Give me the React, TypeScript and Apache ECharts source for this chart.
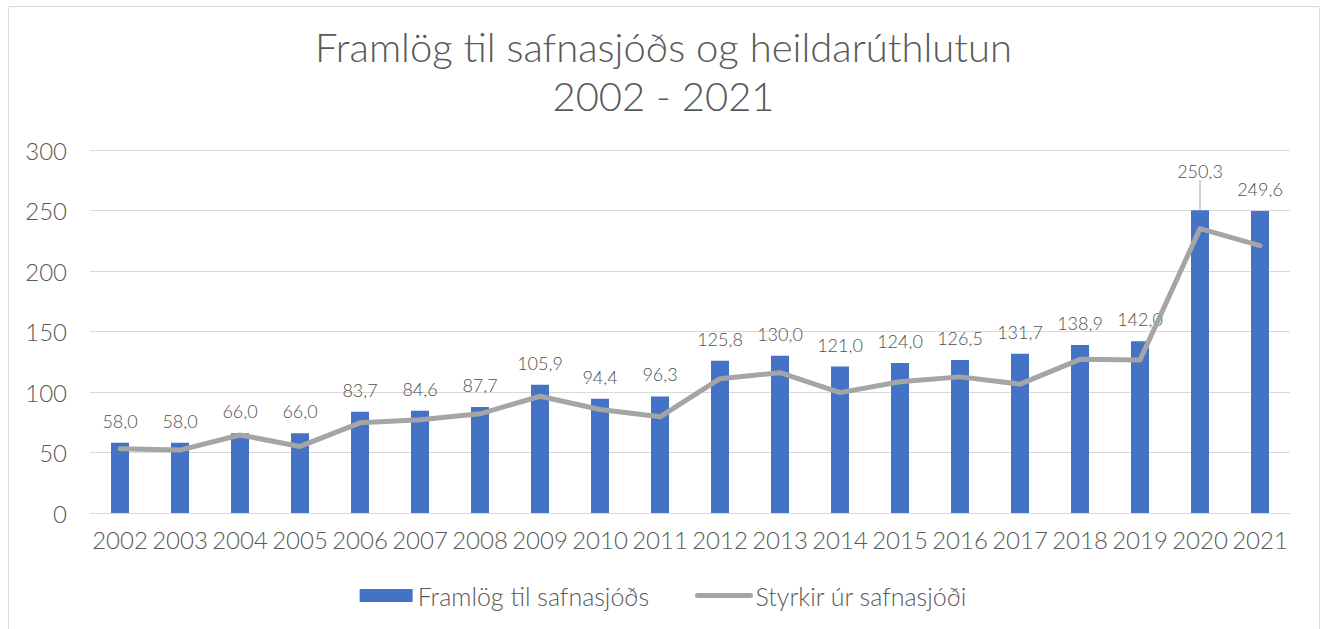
import React, { useEffect, useRef } from "react";
import * as echarts from "echarts";

const years = ["2002","2003","2004","2005","2006","2007","2008","2009","2010","2011","2012","2013","2014","2015","2016","2017","2018","2019","2020","2021"];
const framlog = [58.0,58.0,66.0,66.0,83.7,84.6,87.7,105.9,94.4,96.3,125.8,130.0,121.0,124.0,126.5,131.7,138.9,142.0,250.3,249.6];
const styrkir = [53,52,64.5,55,74.5,77,82,96.5,85.5,79.5,111,116,99.5,108.5,112.5,106.5,127,126.5,235,221];
const titleText = "Framlög til safnasjóðs og heildarúthlutun\n2002 - 2021";
const barName = "Framlög til safnasjóðs";
const lineName = "Styrkir úr safnasjóði";
const leaderIndex = 18;

const FONT = "Lato";
const FW = 300;
const TXT = "#595959";

export default function App() {
  const ref = useRef<HTMLDivElement>(null);
  useEffect(() => {
    document.body.style.margin = "0";
    const chart = echarts.init(ref.current!, null, { renderer: "svg" });
    chart.setOption({
      animation: false,
      backgroundColor: "#ffffff",
      textStyle: { fontFamily: FONT, fontWeight: FW },
      graphic: [
        {
          type: "rect",
          shape: { x: 8.5, y: 6.5, width: 1311, height: 640 },
          style: { fill: "none", stroke: "#D9D9D9", lineWidth: 1 },
          silent: true,
        },
      ],
      title: {
        text: titleText,
        left: "center",
        top: 17,
        textStyle: { fontFamily: FONT, fontSize: 40, fontWeight: FW, color: TXT, lineHeight: 49 },
      },
      legend: {
        bottom: 16,
        left: "center",
        itemWidth: 53,
        itemHeight: 13,
        itemGap: 46,
        textStyle: { fontFamily: FONT, fontWeight: FW, fontSize: 25, color: TXT },
        data: [
          { name: barName, icon: "rect" },
          {
            name: lineName,
            itemStyle: { opacity: 0 },
            lineStyle: { width: 5, color: "#A5A5A5", cap: "round" },
          },
        ],
      },
      grid: { left: 90, right: 37, top: 150, bottom: 116 },
      xAxis: {
        type: "category",
        data: years,
        axisTick: { show: false },
        axisLine: { lineStyle: { color: "#D9D9D9", width: 1 } },
        axisLabel: { interval: 0, color: TXT, fontSize: 24, fontWeight: FW, fontFamily: FONT, margin: 14 },
      },
      yAxis: {
        type: "value",
        min: 0,
        max: 300,
        interval: 50,
        axisLabel: { color: TXT, fontSize: 24, fontWeight: FW, fontFamily: FONT, margin: 23 },
        splitLine: { lineStyle: { color: "#D9D9D9", width: 1 } },
        axisLine: { show: false },
        axisTick: { show: false },
      },
      series: [
        {
          name: barName,
          type: "bar",
          data: framlog.map((v, i) =>
            i === leaderIndex
              ? { value: v, labelLine: { show: true, lineStyle: { color: "#A5A5A5", width: 1 } } }
              : v
          ),
          barWidth: 18,
          itemStyle: { color: "#4472C4" },
          label: {
            show: true,
            position: "top",
            distance: 13,
            color: "#505050",
            fontSize: 18,
            fontWeight: FW,
            fontFamily: FONT,
            formatter: (p: any) => Number(p.value).toFixed(1).replace(".", ","),
          },
          labelLine: { show: false },
          labelLayout: (p: any) => (p.dataIndex === leaderIndex ? { dy: -17 } : {}),
        },
        {
          name: lineName,
          type: "line",
          data: styrkir,
          symbol: "none",
          z: 5,
          lineStyle: { color: "#A5A5A5", width: 5, join: "round", cap: "round" },
          itemStyle: { color: "#A5A5A5" },
        },
      ],
    });
    return () => chart.dispose();
  }, []);
  return <div ref={ref} style={{ width: 1327, height: 629 }} />;
}
